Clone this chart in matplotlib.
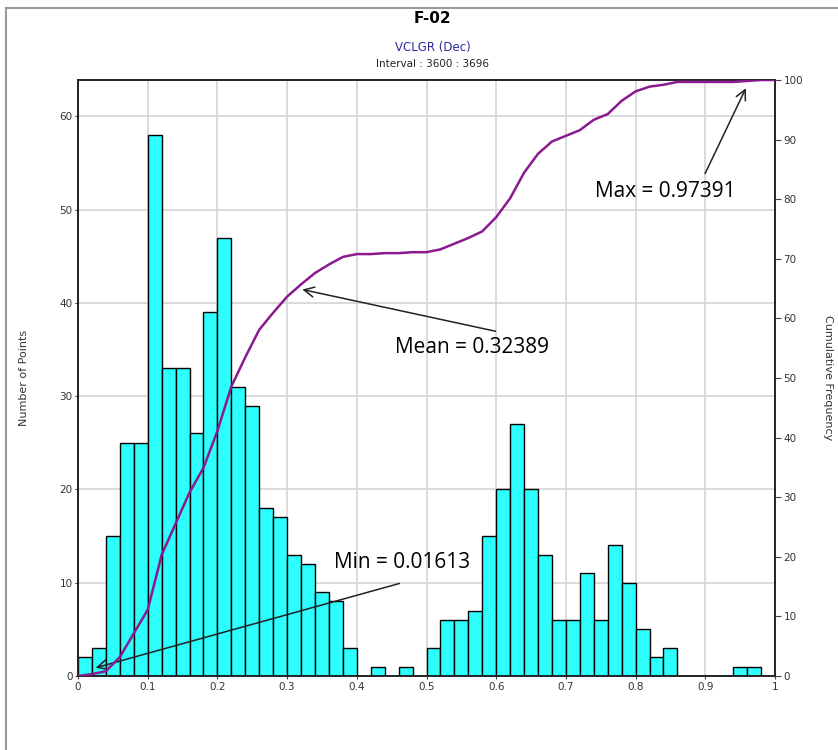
import numpy as np
from matplotlib import pyplot as plt
from matplotlib.lines import Line2D

# histogram of VCLGR, bins of width 0.02 from 0 to 1
bin_edges = np.round(np.arange(0, 1.0001, 0.02), 2)
counts = [2, 3, 15, 25, 25, 58, 33, 33, 26, 39,
          47, 31, 29, 18, 17, 13, 12, 9, 8, 3,
          0, 1, 0, 1, 0, 3, 6, 6, 7, 15,
          20, 27, 20, 13, 6, 6, 11, 6, 14, 10,
          5, 2, 3, 0, 0, 0, 0, 1, 1, 0]

x_ticks = [0, 0.1, 0.2, 0.3, 0.4, 0.5, 0.6, 0.7, 0.8, 0.9, 1]
x_tick_labels = ["0", "0.1", "0.2", "0.3", "0.4", "0.5",
                 "0.6", "0.7", "0.8", "0.9", "1"]
left_ticks = [0, 10, 20, 30, 40, 50, 60]
right_ticks = [0, 10, 20, 30, 40, 50, 60, 70, 80, 90, 100]

# annotations: label, arrow head (x, count), arrow tail, text centre
notes = [
    ("Min = 0.01613", (0.0215, 0.8), (0.465, 10.0), (0.465, 12.2)),
    ("Mean = 0.32389", (0.318, 41.5), (0.603, 36.9), (0.565, 35.2)),
    ("Max = 0.97391", (0.960, 63.3), (0.898, 53.6), (0.842, 52.0)),
]

BAR_COLOR = "#2efdfd"
CURVE_COLOR = "#8b1a90"
TICK_FONT = "DejaVu Sans"


def main() -> None:
    fig = plt.figure(figsize=(8.38, 7.5), dpi=100)
    ax = fig.add_axes([0.0931, 0.0987, 0.8317, 0.7946])

    ax.bar(bin_edges[:-1], counts, width=0.02, align="edge",
           color=BAR_COLOR, edgecolor="black", linewidth=1.0, zorder=2)

    ax.set_xlim(0, 1)
    ax.set_ylim(0, 63.9)
    ax.set_xticks(x_ticks)
    ax.set_xticklabels(x_tick_labels)
    ax.set_yticks(left_ticks)
    ax.grid(True, color="#d4d4d4", linewidth=1.2, zorder=0)
    ax.set_axisbelow(True)
    ax.tick_params(axis="both", labelsize=7.5, length=2, color="#444444",
                   labelcolor="#333333", pad=2)
    for lab in ax.get_xticklabels() + ax.get_yticklabels():
        lab.set_family(TICK_FONT)
    for sp in ax.spines.values():
        sp.set_color("#222222")
        sp.set_linewidth(1.2)
    ax.set_ylabel("Number of Points", fontsize=8, color="#333333",
                  family=["Liberation Sans Narrow", "DejaVu Sans"],
                  labelpad=22)

    for label, head, tail, centre in notes:
        ax.annotate("", xy=head, xytext=tail,
                    arrowprops=dict(arrowstyle="->", color="#222222",
                                    lw=1.1, mutation_scale=18),
                    zorder=6)
        ax.text(centre[0], centre[1], label, ha="center", va="center",
                fontsize=15, family=["Open Sans", "DejaVu Sans"],
                color="black", zorder=7)

    # cumulative frequency in percent on the right axis, drawn over bars
    total = float(np.sum(counts))
    cum_pct = np.concatenate([[0], np.cumsum(counts) / total * 100])
    ax2 = ax.twinx()
    ax2.plot(bin_edges, cum_pct, color=CURVE_COLOR, linewidth=1.8,
             zorder=3)
    ax2.set_ylim(0, 100)
    ax2.set_yticks(right_ticks)
    ax2.tick_params(axis="y", labelsize=7.5, length=4, color="#444444",
                    labelcolor="#333333", pad=2)
    for lab in ax2.get_yticklabels():
        lab.set_family(TICK_FONT)
    for sp in ax2.spines.values():
        sp.set_color("#222222")
        sp.set_linewidth(1.2)
    ax2.set_ylabel("Cumulative Frequency", fontsize=8, color="#333333",
                   family=["Liberation Sans Narrow", "DejaVu Sans"],
                   rotation=270, labelpad=22)

    # titles
    fig.text(0.516, 0.975, "F-02", ha="center", va="center",
             fontsize=11, fontweight="bold", family=TICK_FONT)
    fig.text(0.516, 0.937, "VCLGR (Dec)", ha="center", va="center",
             fontsize=8.5, color="#2b2b9c", family=TICK_FONT)
    fig.text(0.516, 0.915, "Interval : 3600 : 3696", ha="center",
             va="center", fontsize=7.5, color="#222222", family=TICK_FONT)

    # frame of the original panel
    fig.add_artist(Line2D([0.0072, 0.0072], [0.0, 0.990],
                          color="#9a9a9a", linewidth=1.5))
    fig.add_artist(Line2D([0.0072, 1.0], [0.990, 0.990],
                          color="#9a9a9a", linewidth=1.5))

    fig.savefig("out.png", dpi=100)


if __name__ == "__main__":
    main()
